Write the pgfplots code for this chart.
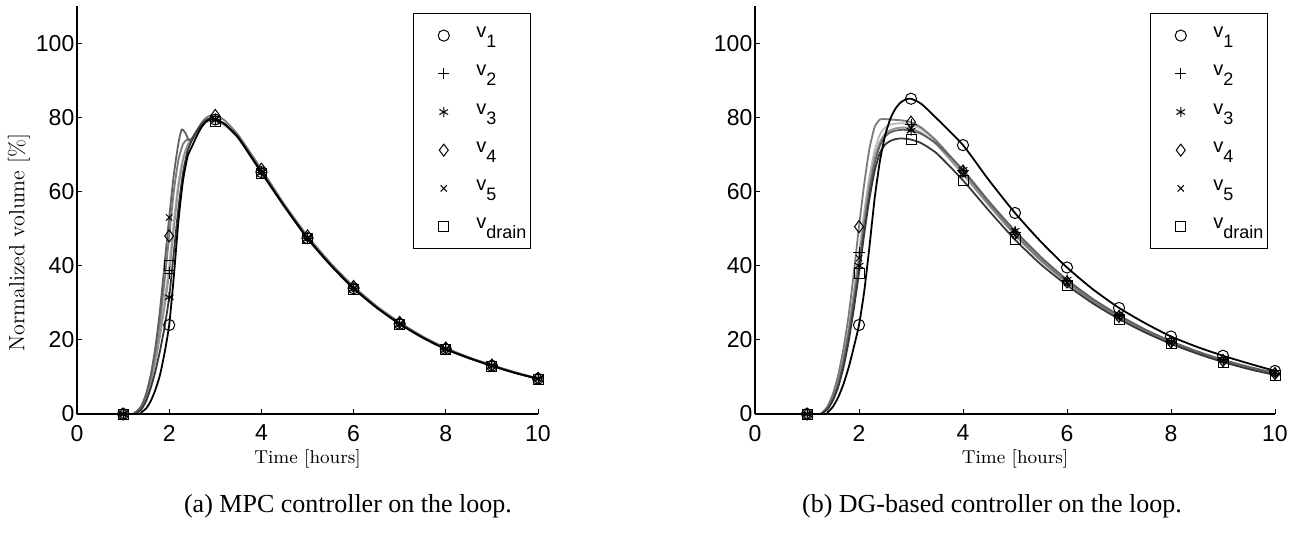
\documentclass[border=0pt]{standalone}
\usepackage{fontspec}
\usepackage{pgfplots}
\pgfplotsset{compat=1.18}
\newfontfamily\arial{Liberation Sans}
\newfontfamily\timesf{Liberation Serif}
\definecolor{ga}{gray}{0.22}
\definecolor{gb}{gray}{0.38}
\definecolor{gc}{gray}{0.48}
\definecolor{gd}{gray}{0.58}
\definecolor{ge}{gray}{0.72}
\newcommand{\vsub}[1]{v\raisebox{-5pt}{\fontsize{9}{9}\selectfont #1}}
\pgfplotsset{
  myax/.style={
    scale only axis, height=204pt,
    xmin=0, xmax=10, ymin=0, ymax=110,
    axis lines=left, axis line style={-, line width=0.6pt},
    xtick={0,2,...,10}, ytick={0,20,...,100},
    tick align=inside, major tick length=2.5pt,
    tick style={line width=0.5pt, black},
    /pgf/number format/assume math mode=true,
    ticklabel style={font=\arial\fontsize{11.5}{13}\selectfont},
    xticklabel style={yshift=-2pt},
    yticklabel style={xshift=2.2pt},
    clip=false,
    xlabel={Time [hours]},
    xlabel style={font=\fontsize{9.3}{11}\selectfont, at={(axis description cs:0.5,0)}, anchor=center, yshift=-22.5pt},
    legend style={at={(rel axis cs:1,1)}, xshift=-3.5pt, yshift=-3.5pt, anchor=north east,
      draw=black, line width=0.6pt, fill=white, inner xsep=0pt, inner ysep=3pt,
      font=\arial\fontsize{10}{12}\selectfont, row sep=3.1pt, column sep=1pt,
      nodes={inner sep=2pt, text height=7pt, text depth=5pt}},
    legend cell align=left,
    legend image code/.code={\path (-15pt,0pt) (13pt,0pt); \draw[##1] plot coordinates {(0pt,0pt)};},
    ln/.style={line width=0.9pt, smooth, tension=0.35, forget plot},
    mk/.style={only marks, black, mark options={solid, line width=0.5pt}},
  }
}
\begin{document}
\begin{tikzpicture}
\useasboundingbox (-38.5pt,-61pt) rectangle (613pt,207pt);
% ---------------- (a) MPC ----------------
\begin{axis}[myax, width=230.5pt, at={(0pt,0pt)}, anchor=south west,
  ylabel={Normalized volume [\%]},
  ylabel style={font=\fontsize{11}{13}\selectfont, at={(axis description cs:-0.126,0.42)}, anchor=center}]
\addplot[ln, color=ge] coordinates {(0,0)(1.2,0)(1.3,0.5)(1.4,1.9)(1.5,4.7)(1.6,9)(1.7,15)(1.8,22.5)(1.9,31)(2,40)(2.1,52)(2.2,62.5)(2.3,69)(2.4,72.5)(2.5,74.2)(2.6,76)(2.7,77.7)(2.8,78.7)(2.9,79.1)(3,78.8)(3.2,77.8)(3.5,74.2)(4,64.9)(4.5,55.8)(5,47.2)(5.5,40)(6,33.7)(6.5,28.6)(7,24.2)(7.5,20.5)(8,17.4)(8.5,15)(9,12.9)(9.5,11.1)(10,9.4)};
\addplot[ln, color=gd] coordinates {(0,0)(1.2,0)(1.3,0.4)(1.4,1.7)(1.5,4.3)(1.6,8.5)(1.7,14)(1.8,21)(1.9,29)(2,38)(2.1,50)(2.2,61)(2.3,68.5)(2.4,72.5)(2.5,74.5)(2.6,76.5)(2.7,78.2)(2.8,79.3)(2.9,79.8)(3,79.4)(3.2,78.2)(3.5,74.5)(4,65.2)(4.5,56)(5,47.4)(5.5,40.2)(6,33.9)(6.5,28.7)(7,24.3)(7.5,20.6)(8,17.5)(8.5,15.1)(9,13)(9.5,11.1)(10,9.5)};
\addplot[ln, color=gc] coordinates {(0,0)(1.2,0)(1.3,0.5)(1.4,2)(1.5,5)(1.6,10)(1.7,16.5)(1.8,25)(1.9,36)(2,48)(2.1,60)(2.2,68.5)(2.3,72.8)(2.39,74)(2.45,73.6)(2.5,74)(2.6,76.3)(2.7,78.5)(2.8,79.9)(2.9,80.5)(3,80.5)(3.2,79.2)(3.5,75.2)(4,66)(4.5,56.5)(5,48)(5.5,40.7)(6,34.4)(6.5,29.1)(7,24.7)(7.5,20.9)(8,17.8)(8.5,15.3)(9,13.2)(9.5,11.3)(10,9.6)};
\addplot[ln, color=gb] coordinates {(0,0)(1.15,0)(1.25,0.4)(1.3,0.8)(1.4,2.3)(1.5,5.5)(1.6,10.5)(1.7,18)(1.8,28)(1.9,40.5)(2,53)(2.1,64.5)(2.2,73)(2.27,76.7)(2.35,75.8)(2.42,74)(2.5,74.3)(2.6,76.2)(2.7,78)(2.8,79.2)(2.9,79.7)(3,79.4)(3.2,78.2)(3.5,74.5)(4,65.2)(4.5,56)(5,47.4)(5.5,40.2)(6,33.9)(6.5,28.7)(7,24.3)(7.5,20.6)(8,17.5)(8.5,15.1)(9,13)(9.5,11.1)(10,9.5)};
\addplot[ln, color=ga] coordinates {(0,0)(1.25,0)(1.3,0.3)(1.4,1.3)(1.5,3.5)(1.6,7)(1.7,11.5)(1.8,17)(1.9,23.5)(2,31.5)(2.1,43.5)(2.2,55.5)(2.3,65)(2.4,71)(2.5,74)(2.6,76.3)(2.7,78)(2.8,79.2)(2.9,79.8)(3,79.5)(3.2,78.2)(3.5,74.5)(4,65.2)(4.5,56)(5,47.4)(5.5,40.2)(6,33.9)(6.5,28.7)(7,24.3)(7.5,20.6)(8,17.5)(8.5,15.1)(9,13)(9.5,11.1)(10,9.5)};
\addplot[ln, color=black] coordinates {(0,0)(1.3,0)(1.4,0.5)(1.5,1.5)(1.6,3.5)(1.7,6.5)(1.8,10.5)(1.9,16.5)(2,24)(2.1,37)(2.2,52)(2.3,63)(2.4,69.5)(2.45,71)(2.5,72.3)(2.6,75)(2.7,77.3)(2.8,78.8)(2.9,79.5)(3,79.4)(3.2,78.2)(3.5,74.5)(4,65.2)(4.5,56)(5,47.4)(5.5,40.2)(6,33.9)(6.5,28.7)(7,24.3)(7.5,20.6)(8,17.5)(8.5,15.1)(9,13)(9.5,11.1)(10,9.5)};
% markers
\addplot[mk, mark=o, mark size=2.8pt] coordinates {(1,0)(2,24)(3,79.4)(4,65.2)(5,47.4)(6,33.9)(7,24.3)(8,17.5)(9,13)(10,9.5)};
\addlegendentry{\vsub{1}}
\addplot[mk, mark=+, mark size=2.8pt] coordinates {(1,0)(2,38)(3,79.4)(4,65.2)(5,47.4)(6,33.9)(7,24.3)(8,17.5)(9,13)(10,9.5)};
\addlegendentry{\vsub{2}}
\addplot[mk, mark=asterisk, mark size=2.5pt] coordinates {(1,0)(2,31.5)(3,79.5)(4,65.2)(5,47.4)(6,33.9)(7,24.3)(8,17.5)(9,13)(10,9.5)};
\addlegendentry{\vsub{3}}
\addplot[mk, mark=diamond, mark size=3pt] coordinates {(1,0)(2,48)(3,80.5)(4,66)(5,48)(6,34.4)(7,24.7)(8,17.8)(9,13.2)(10,9.6)};
\addlegendentry{\vsub{4}}
\addplot[mk, mark=x, mark size=2.2pt] coordinates {(1,0)(2,53)(3,79.4)(4,65.2)(5,47.4)(6,33.9)(7,24.3)(8,17.5)(9,13)(10,9.5)};
\addlegendentry{\vsub{5}}
\addplot[mk, mark=square, mark size=2.5pt] coordinates {(1,0)(2,40)(3,78.8)(4,64.9)(5,47.2)(6,33.7)(7,24.2)(8,17.4)(9,12.9)(10,9.4)};
\addlegendentry{\vsub{drain}}
\end{axis}
% ---------------- (b) DG ----------------
\begin{axis}[myax, width=260pt, at={(339pt,0pt)}, anchor=south west]
\addplot[ln, color=ge] coordinates {(0,0)(1.2,0)(1.3,0.4)(1.4,1.8)(1.5,4.5)(1.6,8.8)(1.7,15)(1.8,23)(1.9,33)(2,43.5)(2.1,54.5)(2.2,64)(2.3,71)(2.4,75.3)(2.5,77.2)(2.6,78)(2.7,78.3)(2.8,78.4)(2.9,78.3)(3,78)(3.2,76.8)(3.5,73.3)(4,65.6)(4.5,57)(5,49)(5.5,42)(6,36)(6.5,30.9)(7,26.6)(7.5,22.8)(8,19.6)(8.5,16.9)(9,14.6)(9.5,12.7)(10,11)};
\addplot[ln, color=gd] coordinates {(0,0)(1.2,0)(1.3,0.4)(1.4,1.7)(1.5,4.3)(1.6,8.5)(1.7,14.5)(1.8,22.3)(1.9,32)(2,42)(2.1,52.5)(2.2,62)(2.3,69)(2.4,73.3)(2.5,75.5)(2.6,76.5)(2.7,77)(2.8,77.2)(2.9,77.2)(3,77)(3.2,75.8)(3.5,72.5)(4,64.6)(4.5,56.2)(5,48.2)(5.5,41.3)(6,35.4)(6.5,30.4)(7,26.1)(7.5,22.4)(8,19.3)(8.5,16.6)(9,14.3)(9.5,12.4)(10,10.8)};
\addplot[ln, color=gc] coordinates {(0,0)(1.2,0)(1.3,0.5)(1.4,2.2)(1.5,5.5)(1.6,10.5)(1.7,17.5)(1.8,26.5)(1.9,38)(2,50.5)(2.1,62)(2.2,71.5)(2.3,77.3)(2.4,79.4)(2.5,79.5)(2.6,79.4)(2.7,79.3)(2.8,79.2)(2.9,79)(3,78.7)(3.2,77.2)(3.5,73.5)(4,65.5)(4.5,56.8)(5,48.6)(5.5,41.5)(6,35.6)(6.5,30.5)(7,26.3)(7.5,22.6)(8,19.4)(8.5,16.7)(9,14.4)(9.5,12.5)(10,10.9)};
\addplot[ln, color=gb] coordinates {(0,0)(1.2,0)(1.3,0.3)(1.4,1.5)(1.5,4)(1.6,8)(1.7,14)(1.8,21.5)(1.9,30.5)(2,40)(2.1,50.5)(2.2,60)(2.3,67.5)(2.4,72.3)(2.5,74.8)(2.6,75.9)(2.7,76.4)(2.8,76.6)(2.9,76.6)(3,76.4)(3.2,75.5)(3.5,72.8)(4,65.8)(4.5,57.3)(5,49.4)(5.5,42.3)(6,36.2)(6.5,31)(7,26.6)(7.5,22.8)(8,19.6)(8.5,16.9)(9,14.6)(9.5,12.7)(10,11.1)};
\addplot[ln, color=ga] coordinates {(0,0)(1.2,0)(1.3,0.3)(1.4,1.4)(1.5,3.7)(1.6,7.3)(1.7,12.5)(1.8,19.5)(1.9,28.3)(2,38)(2.1,48.5)(2.2,58)(2.3,65.5)(2.4,70.3)(2.5,72.6)(2.6,73.6)(2.7,74.1)(2.8,74.3)(2.9,74.2)(3,74)(3.2,73)(3.5,70.2)(4,63)(4.5,54.8)(5,47)(5.5,40.3)(6,34.7)(6.5,29.8)(7,25.6)(7.5,22)(8,18.9)(8.5,16.3)(9,14)(9.5,12.1)(10,10.5)};
\addplot[ln, color=black] coordinates {(0,0)(1.3,0)(1.4,0.5)(1.5,2)(1.6,4.5)(1.7,8)(1.8,12.5)(1.9,18)(2,24)(2.1,33)(2.2,45)(2.3,58)(2.4,68)(2.5,75)(2.6,79.5)(2.7,82.3)(2.8,84)(2.9,84.8)(3,85)(3.2,83.6)(3.5,79.6)(4,72.5)(4.5,63)(5,54.2)(5.5,46.4)(6,39.5)(6.5,33.6)(7,28.6)(7.5,24.5)(8,20.9)(8.5,18.1)(9,15.7)(9.5,13.6)(10,11.6)};
% markers
\addplot[mk, mark=o, mark size=2.8pt] coordinates {(1,0)(2,24)(3,85)(4,72.5)(5,54.2)(6,39.5)(7,28.6)(8,20.9)(9,15.7)(10,11.6)};
\addlegendentry{\vsub{1}}
\addplot[mk, mark=+, mark size=2.8pt] coordinates {(1,0)(2,43.5)(3,78)(4,65.6)(5,49)(6,36)(7,26.6)(8,19.6)(9,14.6)(10,11)};
\addlegendentry{\vsub{2}}
\addplot[mk, mark=asterisk, mark size=2.5pt] coordinates {(1,0)(2,40)(3,76.4)(4,65.8)(5,49.4)(6,36.2)(7,26.6)(8,19.6)(9,14.6)(10,11.1)};
\addlegendentry{\vsub{3}}
\addplot[mk, mark=diamond, mark size=3pt] coordinates {(1,0)(2,50.5)(3,78.7)(4,65.5)(5,48.6)(6,35.6)(7,26.3)(8,19.4)(9,14.4)(10,10.9)};
\addlegendentry{\vsub{4}}
\addplot[mk, mark=x, mark size=2.2pt] coordinates {(1,0)(2,42)(3,77)(4,64.6)(5,48.2)(6,35.4)(7,26.1)(8,19.3)(9,14.3)(10,10.8)};
\addlegendentry{\vsub{5}}
\addplot[mk, mark=square, mark size=2.5pt] coordinates {(1,0)(2,38)(3,74)(4,63)(5,47)(6,34.7)(7,25.6)(8,18.9)(9,14)(10,10.5)};
\addlegendentry{\vsub{drain}}
\end{axis}
\node[font=\timesf\fontsize{13}{15}\selectfont, anchor=base] at (135.5pt,-49pt) {(a) MPC controller on the loop.};
\node[font=\timesf\fontsize{13}{15}\selectfont, anchor=base] at (457.5pt,-49pt) {(b) DG-based controller on the loop.};
\end{tikzpicture}
\end{document}
